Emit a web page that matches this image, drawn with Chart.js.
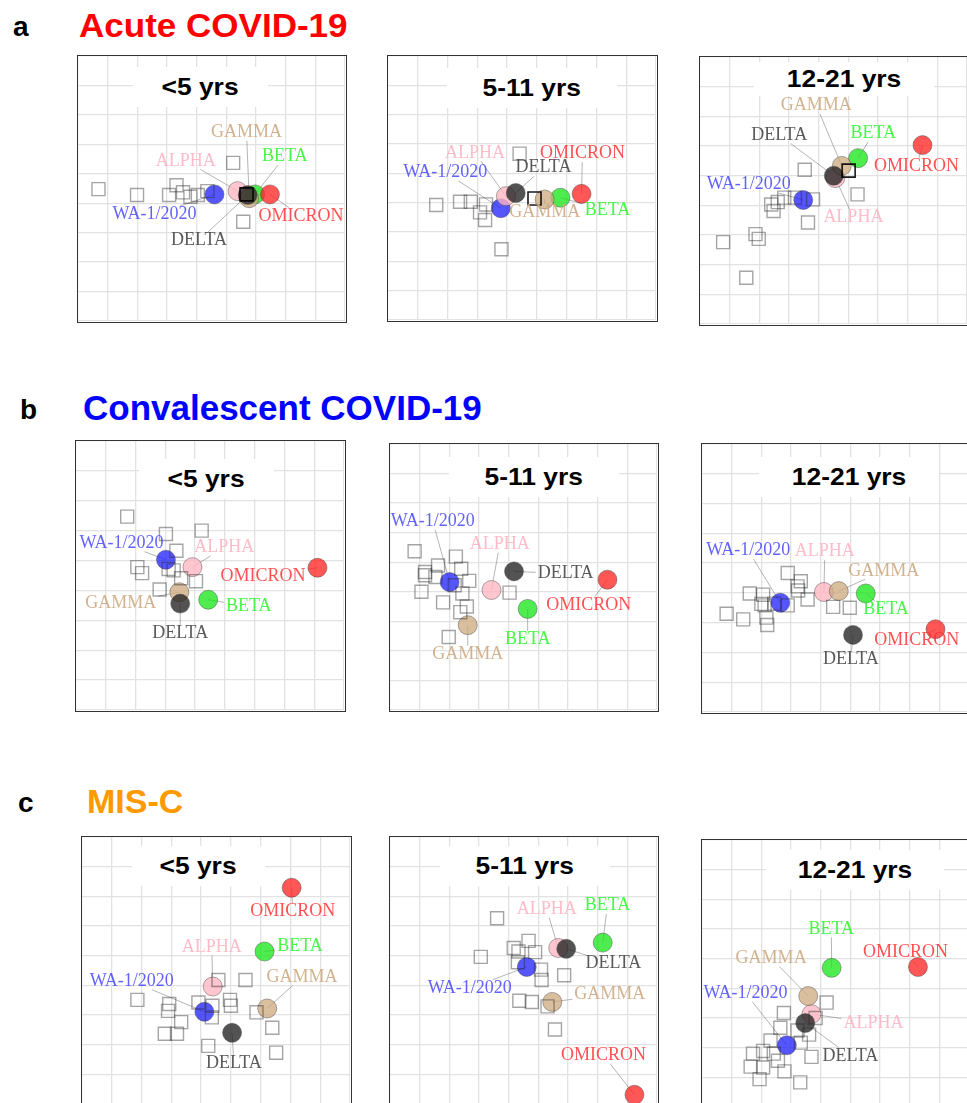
<!DOCTYPE html>
<html><head><meta charset="utf-8">
<script src="https://cdn.jsdelivr.net/npm/chart.js@4/dist/chart.umd.min.js"></script>
<style>
html,body{margin:0;padding:0;background:#fff;}
#page{position:relative;width:967px;height:1103px;overflow:hidden;font-family:"Liberation Sans",Arial,sans-serif;}
.hd{position:absolute;font-weight:bold;line-height:1;white-space:nowrap;transform-origin:0 0;}
.panel{position:absolute;box-sizing:border-box;border:1.5px solid #333;background:#fff;}
.panel canvas{position:absolute;left:0;top:0;}
.ptitle{position:absolute;background:#fff;font-weight:bold;font-size:24px;text-align:center;color:#000;white-space:nowrap;}
.ptitle span{display:inline-block;transform:scaleX(1.1);}
</style></head><body><div id="page"></div>
<script>
// ---------- DATA ----------
const antigens = ['WA-1/2020','ALPHA','BETA','GAMMA','DELTA','OMICRON'];
const ageGroups = ['<5 yrs','5-11 yrs','12-21 yrs'];
const sectionLetters = ['a','b','c'];
const sectionTitles = ['Acute COVID-19','Convalescent COVID-19','MIS-C'];

// a: Acute COVID-19
const a1_agX = [4.60,5.38,5.97,5.77,5.72,6.47];
const a1_agY = [4.70,4.59,4.70,4.83,4.72,4.70];
const a1_lblX = [2.58,3.63,6.97,5.68,4.08,7.52];
const a1_lblY = [5.39,3.56,3.41,2.59,6.26,5.44];
const a1_srX = [0.69,1.99,3.07,3.32,3.54,3.79,4.04,4.36,5.23,5.57];
const a1_srY = [4.52,4.72,4.72,4.39,4.63,4.78,4.72,4.59,3.63,5.63];
const a1_hlX = [5.68];
const a1_hlY = [4.70];

const a2_agX = [3.79,3.96,5.79,5.26,4.29,6.50];
const a2_agY = [5.19,4.78,4.83,4.89,4.67,4.70];
const a2_lblX = [1.92,2.92,7.37,5.26,5.22,6.53];
const a2_lblY = [3.97,3.30,5.26,5.33,3.81,3.33];
const a2_srX = [1.62,2.42,2.78,3.29,3.09,3.26,4.42,3.81];
const a2_srY = [5.08,4.97,4.97,5.06,5.33,5.59,3.33,6.59];
const a2_hlX = [4.92];
const a2_hlY = [4.86];

const a3_agX = [3.48,4.56,5.33,4.78,4.51,7.50];
const a3_agY = [4.82,4.08,3.41,3.67,4.00,2.97];
const a3_lblX = [1.64,5.17,5.84,3.92,2.67,7.30];
const a3_lblY = [4.30,5.41,2.58,1.63,2.63,3.69];
const a3_srX = [3.53,3.81,5.31,3.64,2.84,2.62,2.40,2.48,1.87,1.98,0.78,1.56,3.20];
const a3_srY = [3.80,4.80,4.63,5.58,4.74,4.89,4.97,5.19,5.97,6.13,6.24,7.44,4.74];
const a3_hlX = [5.01];
const a3_hlY = [3.83];

// b: Convalescent COVID-19
const b1_agX = [3.02,3.91,4.44,3.47,3.50,8.11];
const b1_agY = [3.97,4.22,5.31,5.06,5.44,4.24];
const b1_lblX = [1.53,4.98,5.80,1.50,3.50,6.28];
const b1_lblY = [3.42,3.56,5.53,5.42,6.44,4.52];
const b1_srX = [1.72,3.02,4.22,3.37,2.06,2.22,3.11,3.28,3.53,4.03,2.81];
const b1_srY = [2.53,3.11,3.00,3.67,4.22,4.42,4.28,4.33,4.59,4.69,4.97];

const b2_agX = [2.01,3.42,4.64,2.62,4.18,7.33];
const b2_agY = [4.67,4.94,5.58,6.13,4.31,4.59];
const b2_lblX = [1.44,3.70,4.64,2.62,5.92,6.70];
const b2_lblY = [2.61,3.39,6.61,7.11,4.39,5.44];
const b2_srX = [0.83,2.22,1.62,2.40,1.18,1.18,1.53,2.67,1.06,2.44,4.03,1.79,2.59,2.37,1.98,2.18];
const b2_srY = [3.63,3.81,4.11,4.22,4.33,4.44,4.50,4.63,5.00,5.06,5.03,5.36,5.50,5.69,6.53,4.78];

const b3_agX = [2.64,4.11,5.52,4.61,5.09,7.87];
const b3_agY = [5.33,4.97,5.02,4.94,6.41,6.22];
const b3_lblX = [1.56,4.14,6.20,6.13,5.02,7.24];
const b3_lblY = [3.58,3.61,5.56,4.26,7.22,6.59];
const b3_srX = [2.89,3.33,3.22,3.24,3.56,1.61,2.06,2.00,2.11,2.44,2.89,0.83,1.39,2.17,2.20,4.42,4.98];
const b3_srY = [4.33,4.61,4.78,4.92,5.22,5.02,5.06,5.37,5.42,5.36,5.42,5.70,5.89,5.83,6.08,5.47,5.50];

// c: MIS-C
const c1_agX = [4.11,4.39,6.13,6.22,5.04,7.04];
const c1_agY = [5.89,5.04,3.86,5.78,6.60,1.71];
const c1_lblX = [1.67,4.36,7.32,7.39,5.10,7.08];
const c1_lblY = [4.86,3.71,3.69,4.72,7.63,2.52];
const c1_srX = [1.86,2.93,2.89,3.91,4.58,5.49,4.38,4.97,5.00,5.86,3.33,4.36,2.78,3.19,6.39,4.24,6.52];
const c1_srY = [5.49,5.63,5.86,5.58,4.82,4.82,5.69,5.49,5.69,5.91,6.24,6.08,6.63,6.63,6.43,7.04,7.27];

const c2_agX = [4.61,5.67,7.17,5.47,5.94,8.24];
const c2_agY = [4.38,3.74,3.56,5.56,3.77,8.69];
const c2_lblX = [2.69,5.28,7.33,7.41,7.53,7.20];
const c2_lblY = [5.10,2.43,2.30,5.30,4.27,7.36];
const c2_srX = [3.61,3.06,4.17,4.67,4.89,4.33,4.31,5.09,5.11,5.87,4.36,4.78,5.31,5.56];
const c2_srY = [2.74,4.04,3.74,3.50,3.88,3.86,4.22,4.47,4.82,4.66,5.52,5.56,5.71,6.49];

const c3_agX = [2.86,3.69,4.37,3.58,3.48,7.28];
const c3_agY = [6.92,5.87,4.31,5.26,6.17,4.28];
const c3_lblX = [1.47,5.78,4.36,2.33,5.00,6.86];
const c3_lblY = [5.17,6.17,3.00,3.98,7.28,3.78];
const c3_srX = [4.20,2.76,3.83,2.64,3.22,3.61,2.31,3.33,1.72,2.06,2.42,2.56,3.69,1.64,2.06,2.78,1.94,3.31];
const c3_srY = [5.48,5.83,6.00,6.33,6.42,6.56,6.76,6.83,7.20,7.11,7.20,7.44,7.31,7.64,7.67,7.80,8.06,8.17];

// ---------- STYLE ----------
const agFill = ['rgba(30,30,255,0.75)','rgba(255,182,193,0.78)','rgba(20,230,20,0.75)','rgba(205,170,125,0.75)','rgba(35,35,35,0.78)','rgba(255,30,30,0.75)'];
const lblColor = ['rgba(70,70,255,0.85)','rgba(255,175,190,0.85)','rgba(40,245,40,0.85)','rgba(205,170,130,0.9)','rgba(60,60,60,0.85)','rgba(255,50,50,0.85)'];

const sectionStyle = [
  {letterLeft:13, letterBase:36.5, left:79, base:36.5, fs:34, color:'#ff0000', sx:1.03},
  {letterLeft:20, letterBase:420, left:83, base:420, fs:35, color:'#0000ff', sx:1.0},
  {letterLeft:18, letterBase:813, left:87, base:813, fs:34, color:'#ff9900', sx:1.0}
];

const panels = [
  {left:77, top:55, w:270, h:268, tcx:122, tcy:31, tw:135, th:40, title:ageGroups[0], agX:a1_agX, agY:a1_agY, lblX:a1_lblX, lblY:a1_lblY, srX:a1_srX, srY:a1_srY, hlX:a1_hlX, hlY:a1_hlY},
  {left:387, top:55, w:271, h:267, tcx:144, tcy:32, tw:170, th:40, title:ageGroups[1], agX:a2_agX, agY:a2_agY, lblX:a2_lblX, lblY:a2_lblY, srX:a2_srX, srY:a2_srY, hlX:a2_hlX, hlY:a2_hlY},
  {left:699, top:56, w:270, h:270, tcx:144, tcy:22, tw:180, th:34, title:ageGroups[2], agX:a3_agX, agY:a3_agY, lblX:a3_lblX, lblY:a3_lblY, srX:a3_srX, srY:a3_srY, hlX:a3_hlX, hlY:a3_hlY},
  {left:75, top:440, w:271, h:272, tcx:130, tcy:38, tw:135, th:40, title:ageGroups[0], agX:b1_agX, agY:b1_agY, lblX:b1_lblX, lblY:b1_lblY, srX:b1_srX, srY:b1_srY, hlX:[], hlY:[]},
  {left:389, top:443, w:270, h:269, tcx:144, tcy:33, tw:170, th:40, title:ageGroups[1], agX:b2_agX, agY:b2_agY, lblX:b2_lblX, lblY:b2_lblY, srX:b2_srX, srY:b2_srY, hlX:[], hlY:[]},
  {left:701, top:443, w:270, h:271, tcx:147, tcy:33, tw:180, th:40, title:ageGroups[2], agX:b3_agX, agY:b3_agY, lblX:b3_lblX, lblY:b3_lblY, srX:b3_srX, srY:b3_srY, hlX:[], hlY:[]},
  {left:81, top:836, w:271, h:270, tcx:116, tcy:29, tw:133, th:40, title:ageGroups[0], agX:c1_agX, agY:c1_agY, lblX:c1_lblX, lblY:c1_lblY, srX:c1_srX, srY:c1_srY, hlX:[], hlY:[]},
  {left:389, top:836, w:270, h:270, tcx:135, tcy:29, tw:170, th:40, title:ageGroups[1], agX:c2_agX, agY:c2_agY, lblX:c2_lblX, lblY:c2_lblY, srX:c2_srX, srY:c2_srY, hlX:[], hlY:[]},
  {left:701, top:839, w:270, h:270, tcx:153, tcy:30, tw:178, th:40, title:ageGroups[2], agX:c3_agX, agY:c3_agY, lblX:c3_lblX, lblY:c3_lblY, srX:c3_srX, srY:c3_srY, hlX:[], hlY:[]}
];

// ---------- BUILD ----------
const page = document.getElementById('page');
const ASC = 0.847;

sectionStyle.forEach((s,i)=>{
  const L = document.createElement('div');
  L.className='hd'; L.textContent = sectionLetters[i];
  L.style.fontSize='28px'; L.style.left=s.letterLeft+'px'; L.style.top=(s.letterBase-ASC*28)+'px'; L.style.color='#000';
  page.appendChild(L);
  const T = document.createElement('div');
  T.className='hd'; T.textContent = sectionTitles[i];
  T.style.fontSize=s.fs+'px'; T.style.left=s.left+'px'; T.style.top=(s.base-ASC*s.fs)+'px'; T.style.color=s.color;
  T.style.transform='scaleX('+s.sx+')';
  page.appendChild(T);
});

function xy(xs,ys){ return xs.map((x,i)=>({x:x,y:ys[i]})); }

const LBL_FONT = '18px "Liberation Serif","Times New Roman",serif';
const labelPlugin = {
  id:'agLabels',
  beforeDatasetsDraw(chart){
    const p = chart.$panel; if(!p) return;
    const ctx = chart.ctx, sx = chart.scales.x, sy = chart.scales.y;
    ctx.save();
    ctx.font = LBL_FONT;
    ctx.strokeStyle = 'rgba(90,90,90,0.45)'; ctx.lineWidth = 1;
    antigens.forEach((name,i)=>{
      const px = sx.getPixelForValue(p.agX[i]), py = sy.getPixelForValue(p.agY[i]);
      const lx = sx.getPixelForValue(p.lblX[i]), ly = sy.getPixelForValue(p.lblY[i]);
      const hw = ctx.measureText(name).width/2 + 2, hh = 8.5;
      const dx = px-lx, dy = py-ly;
      const t = Math.min(dx ? hw/Math.abs(dx) : Infinity, dy ? hh/Math.abs(dy) : Infinity);
      if (t < 1) {
        ctx.beginPath();
        ctx.moveTo(lx+dx*t, ly+dy*t);
        ctx.lineTo(px, py);
        ctx.stroke();
      }
    });
    ctx.restore();
  },
  afterDatasetsDraw(chart){
    const p = chart.$panel; if(!p) return;
    const ctx = chart.ctx, sx = chart.scales.x, sy = chart.scales.y;
    ctx.save();
    ctx.font = LBL_FONT;
    ctx.textAlign='center'; ctx.textBaseline='middle';
    antigens.forEach((name,i)=>{
      ctx.fillStyle = lblColor[i];
      ctx.fillText(name, sx.getPixelForValue(p.lblX[i]), sy.getPixelForValue(p.lblY[i]));
    });
    ctx.restore();
  }
};

const gridOpt = {color:'#e2e2e2', lineWidth:1.3, drawTicks:false};

panels.forEach(p=>{
  const div = document.createElement('div');
  div.className='panel';
  div.style.left=p.left+'px'; div.style.top=p.top+'px';
  div.style.width=p.w+'px'; div.style.height=p.h+'px';
  const cv = document.createElement('canvas');
  cv.width = p.w-3; cv.height = p.h-3;
  cv.style.width=(p.w-3)+'px'; cv.style.height=(p.h-3)+'px';
  div.appendChild(cv);
  const t = document.createElement('div');
  t.className='ptitle';
  t.style.left=(p.tcx-p.tw/2)+'px'; t.style.top=(p.tcy-p.th/2)+'px'; t.style.width=p.tw+'px';
  t.style.height=p.th+'px'; t.style.lineHeight=p.th+'px';
  const sp = document.createElement('span'); sp.textContent=p.title; t.appendChild(sp);
  div.appendChild(t);
  page.appendChild(div);

  new Chart(cv, {
    type:'scatter',
    data:{datasets:[
      {label:'sera (highlighted)', data:xy(p.hlX,p.hlY), pointStyle:'rect', pointRadius:9.2,
       pointBorderColor:'rgba(0,0,0,0.9)', pointBackgroundColor:'rgba(0,0,0,0)', pointBorderWidth:1.6, order:0, clip:false},
      {label:'sera', data:xy(p.srX,p.srY), pointStyle:'rect', pointRadius:9.2,
       pointBorderColor:'rgba(40,40,40,0.42)', pointBackgroundColor:'rgba(0,0,0,0)', pointBorderWidth:1.4, order:1, clip:false},
      {label:'antigens', data:xy(p.agX,p.agY), pointStyle:'circle', pointRadius:9.5,
       pointBackgroundColor:agFill, pointBorderColor:'rgba(70,70,70,0.45)', pointBorderWidth:1, order:2, clip:false}
    ]},
    options:{
      responsive:false, animation:false, devicePixelRatio:1, events:[],
      layout:{padding:0, autoPadding:false},
      plugins:{legend:{display:false}, tooltip:{enabled:false}},
      scales:{
        x:{type:'linear', min:0, max:9, ticks:{display:false, stepSize:1}, grid:gridOpt, border:{display:false}},
        y:{type:'linear', min:0, max:9, reverse:true, ticks:{display:false, stepSize:1}, grid:gridOpt, border:{display:false}}
      }
    },
    plugins:[{id:'bind', beforeInit(c){ c.$panel = p; }}, labelPlugin]
  });
});
</script>
</body></html>
